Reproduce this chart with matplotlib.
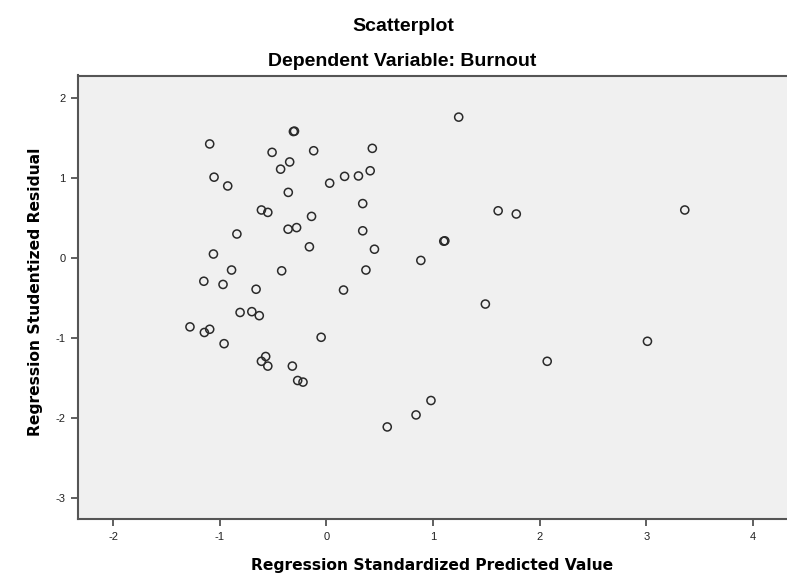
import matplotlib
matplotlib.use('Agg')
from matplotlib import pyplot as plt

plt.rcParams['font.family'] = ['Liberation Sans', 'DejaVu Sans']
plt.rcParams['axes.unicode_minus'] = False

# standardized predicted value (x) and studentized residual (y)
pred = [-0.31, -0.30, -1.095, -0.51, -0.12, -0.345, -0.43, -1.054, -0.926, -0.358,
        0.03, -0.61, -0.55, -0.14, -0.36, -0.28, -0.84, -0.16, -1.06, -0.89,
        -0.42, -1.15, -0.97, -0.66, -0.81, -0.70, -0.63, -1.28, -1.145, -1.095,
        -0.96, -0.05, -0.57, -0.61, -0.55, -0.32, -0.27, -0.22, 1.24, 0.43,
        0.17, 0.30, 0.41, 0.34, 1.61, 1.78, 0.34, 1.10, 1.11, 0.45,
        0.885, 0.37, 0.16, 1.49, 3.36, 2.07, 0.98, 0.84, 0.57, 3.01]
resid = [1.58, 1.585, 1.425, 1.32, 1.34, 1.20, 1.11, 1.01, 0.90, 0.82,
         0.935, 0.60, 0.57, 0.52, 0.36, 0.38, 0.30, 0.14, 0.05, -0.15,
         -0.16, -0.29, -0.33, -0.39, -0.68, -0.67, -0.72, -0.86, -0.93, -0.89,
         -1.07, -0.99, -1.23, -1.29, -1.35, -1.35, -1.53, -1.55, 1.76, 1.37,
         1.02, 1.025, 1.09, 0.68, 0.59, 0.55, 0.34, 0.21, 0.215, 0.11,
         -0.03, -0.15, -0.40, -0.575, 0.60, -1.29, -1.78, -1.96, -2.11, -1.04]

x_ticks = [-2, -1, 0, 1, 2, 3, 4]
y_ticks = [-3, -2, -1, 0, 1, 2]

fig = plt.figure(figsize=(7.87, 5.8), dpi=100)
ax = fig.add_axes([78 / 787, 61 / 580, 739 / 787, 443.5 / 580])
ax.set_facecolor('#f0f0f0')

ax.scatter(pred, resid, s=34, facecolors='none', edgecolors='#2a2a2a', linewidths=1.1)

ax.set_xlim(-2.33, 4.6)
ax.set_ylim(-3.26, 2.28)
ax.set_xticks(x_ticks)
ax.set_yticks(y_ticks)
ax.tick_params(direction='out', length=5, width=1.2, color='#444444',
               labelsize=8, labelcolor='#222222', pad=4)
for sp in ax.spines.values():
    sp.set_color('#555555')
    sp.set_linewidth(1.5)

fig.text(403 / 787, 1 - 31 / 580, 'Scatterplot', ha='center', va='baseline',
         fontsize=14, fontweight='bold')
fig.text(402 / 787, 1 - 66.5 / 580, 'Dependent Variable: Burnout', ha='center',
         va='baseline', fontsize=14, fontweight='bold')
fig.text(432 / 787, 1 - 570 / 580, 'Regression Standardized Predicted Value',
         ha='center', va='baseline', fontsize=11.2, fontweight='bold',
         family='DejaVu Sans')
fig.text(35.5 / 787, 1 - 292 / 580, 'Regression Studentized Residual', ha='center',
         va='center', rotation=90, fontsize=11.2, fontweight='bold',
         family='DejaVu Sans')

fig.savefig('out.png', dpi=100)
